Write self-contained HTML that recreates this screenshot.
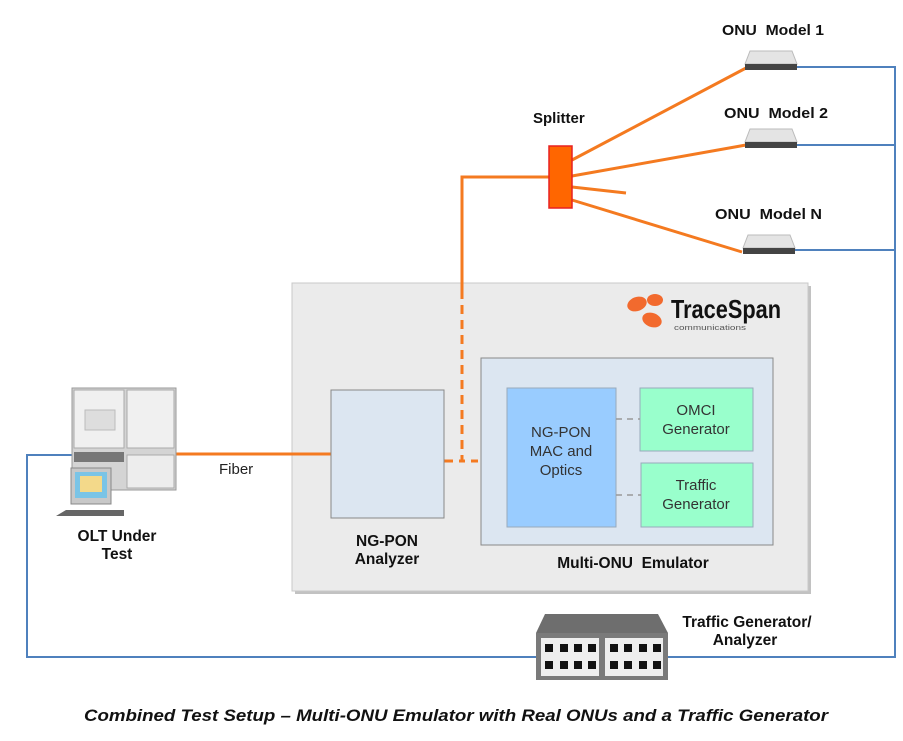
<!DOCTYPE html>
<html><head><style>body{margin:0;background:#fff}svg{display:block}text{font-family:"Liberation Sans",Arial,sans-serif}</style></head><body>
<svg width="903" height="741" viewBox="0 0 903 741" xmlns="http://www.w3.org/2000/svg">
<rect x="295" y="286" width="516" height="308" fill="#999" opacity="0.6"/>
<rect x="292" y="283" width="516" height="308" fill="#ebebeb" stroke="#c8c8c8"/>
<g fill="#f26a2e"><ellipse cx="637" cy="304" rx="10" ry="7" transform="rotate(-20 637 304)"/><ellipse cx="655" cy="300" rx="8" ry="6"/><ellipse cx="652" cy="320" rx="10" ry="7" transform="rotate(20 652 320)"/></g>
<text x="671" y="318" font-size="26" font-weight="bold" fill="#111" textLength="110" lengthAdjust="spacingAndGlyphs" style="font-family:'Liberation Sans Narrow','Liberation Sans',sans-serif">TraceSpan</text>
<text x="674" y="330" font-size="7" fill="#555" textLength="72" lengthAdjust="spacingAndGlyphs">communications</text>
<g stroke="#4f81bd" stroke-width="2" fill="none">
<polyline points="797,67 895,67 895,657 27,657 27,455 72,455"/>
<line x1="797" y1="145" x2="895" y2="145"/>
<line x1="794" y1="250" x2="895" y2="250"/>
</g>
<g stroke="#f47a20" stroke-width="3" fill="none">
<line x1="176" y1="454" x2="331" y2="454"/>
<polyline points="549,177 462,177 462,290"/>
<polyline points="462,290 462,461 478,461" stroke-dasharray="9,6"/>
<line x1="444" y1="461" x2="462" y2="461" stroke-dasharray="9,6"/>
<line x1="572" y1="160" x2="746" y2="68"/>
<line x1="572" y1="176" x2="746" y2="145"/>
<line x1="572" y1="187" x2="626" y2="193"/>
<line x1="572" y1="200" x2="742" y2="252"/>
</g>
<rect x="549" y="146" width="23" height="62" fill="#ff6600" stroke="#e82020" stroke-width="1.5"/>
<g>
<path d="M750,51 L792,51 L797,64 L745,64 Z" fill="#e4e4e4" stroke="#bbb"/><rect x="745" y="64" width="52" height="6" fill="#444"/>
<path d="M750,129 L792,129 L797,142 L745,142 Z" fill="#e4e4e4" stroke="#bbb"/><rect x="745" y="142" width="52" height="6" fill="#444"/>
<path d="M748,235 L790,235 L795,248 L743,248 Z" fill="#e4e4e4" stroke="#bbb"/><rect x="743" y="248" width="52" height="6" fill="#444"/>
</g>
<g font-size="15" font-weight="bold" fill="#111">
<text x="722" y="35" textLength="102" lengthAdjust="spacingAndGlyphs">ONU&#160; Model 1</text>
<text x="724" y="118" textLength="104" lengthAdjust="spacingAndGlyphs">ONU&#160; Model 2</text>
<text x="715" y="219" textLength="107" lengthAdjust="spacingAndGlyphs">ONU&#160; Model N</text>
<text x="533" y="123">Splitter</text>
</g>
<rect x="331" y="390" width="113" height="128" fill="#dce6f1" stroke="#888"/>
<rect x="481" y="358" width="292" height="187" fill="#dce6f1" stroke="#888"/>
<rect x="507" y="388" width="109" height="139" fill="#99ccff" stroke="#9ab"/>
<rect x="640" y="388" width="113" height="63" fill="#99ffcc" stroke="#9ab"/>
<rect x="641" y="463" width="112" height="64" fill="#99ffcc" stroke="#9ab"/>
<g stroke="#999" stroke-width="1.5" stroke-dasharray="6,5"><line x1="616" y1="419" x2="640" y2="419"/><line x1="616" y1="495" x2="641" y2="495"/></g>
<g font-size="15" fill="#333" text-anchor="middle">
<text x="561" y="437">NG-PON</text><text x="561" y="456">MAC and</text><text x="561" y="475">Optics</text>
<text x="696" y="415">OMCI</text><text x="696" y="434">Generator</text>
<text x="696" y="490">Traffic</text><text x="696" y="509">Generator</text>
</g>
<g font-size="15.5" font-weight="bold" fill="#111" text-anchor="middle">
<text x="387" y="546">NG-PON</text><text x="387" y="564">Analyzer</text>
<text x="633" y="568">Multi-ONU&#160; Emulator</text>
<text x="117" y="541">OLT Under</text><text x="117" y="559">Test</text>
<text x="747" y="627">Traffic Generator/</text><text x="745" y="645">Analyzer</text>
</g>
<text x="219" y="474" font-size="15" fill="#222">Fiber</text>
<rect x="72" y="388" width="104" height="102" fill="#d4d4d4" stroke="#999"/>
<rect x="74" y="390" width="50" height="58" fill="#f0f0f0" stroke="#aaa"/>
<rect x="127" y="390" width="47" height="58" fill="#f0f0f0" stroke="#aaa"/>
<rect x="127" y="455" width="47" height="33" fill="#ededed" stroke="#aaa"/>
<rect x="85" y="410" width="30" height="20" fill="#ddd" stroke="#bbb"/>
<rect x="74" y="452" width="50" height="10" fill="#777"/>
<rect x="71" y="468" width="40" height="36" fill="#c8c8c8" stroke="#888"/>
<rect x="75" y="472" width="32" height="26" fill="#7ac4e6"/>
<rect x="80" y="476" width="22" height="16" fill="#f3d98a"/>
<polygon points="56,516 124,516 124,510 66,510" fill="#666"/>
<polygon points="545,614 658,614 668,633 536,633" fill="#6e6e6e"/>
<rect x="536" y="633" width="132" height="47" fill="#7a7a7a"/>
<rect x="541" y="638" width="58" height="38" fill="#eee"/><rect x="605" y="638" width="58" height="38" fill="#eee"/>
<g fill="#111">
<rect x="545" y="644" width="8" height="8"/><rect x="560" y="644" width="8" height="8"/><rect x="574" y="644" width="8" height="8"/><rect x="588" y="644" width="8" height="8"/>
<rect x="545" y="661" width="8" height="8"/><rect x="560" y="661" width="8" height="8"/><rect x="574" y="661" width="8" height="8"/><rect x="588" y="661" width="8" height="8"/>
<rect x="610" y="644" width="8" height="8"/><rect x="624" y="644" width="8" height="8"/><rect x="639" y="644" width="8" height="8"/><rect x="653" y="644" width="8" height="8"/>
<rect x="610" y="661" width="8" height="8"/><rect x="624" y="661" width="8" height="8"/><rect x="639" y="661" width="8" height="8"/><rect x="653" y="661" width="8" height="8"/>
</g>
<text x="84" y="721" font-size="17" font-weight="bold" font-style="italic" fill="#111" textLength="744" lengthAdjust="spacingAndGlyphs">Combined Test Setup – Multi-ONU Emulator with Real ONUs and a Traffic Generator</text>
</svg>
</body></html>
